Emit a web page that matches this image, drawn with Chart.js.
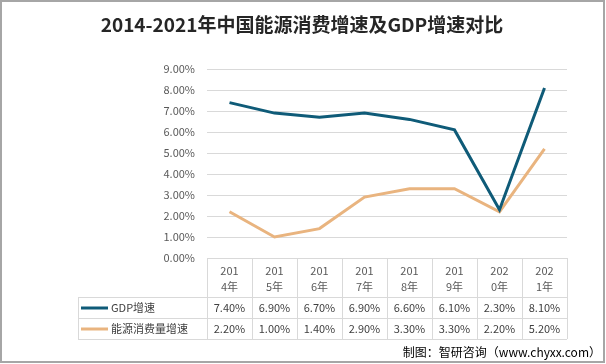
<!DOCTYPE html>
<html>
<head>
<meta charset="utf-8">
<script src="https://cdn.jsdelivr.net/npm/chart.js@4"></script>
<style>
  html, body { margin: 0; padding: 0; background: #fff; }
  #wrap { width: 606px; height: 364px; position: relative; }
</style>
</head>
<body>
<div id="wrap"><canvas id="chartSpeed" width="606" height="364"></canvas></div>
<script>
const years = [['201', '4年'], ['201', '5年'], ['201', '6年'], ['201', '7年'], ['201', '8年'], ['201', '9年'], ['202', '0年'], ['202', '1年']];
const gdpGrowth = [7.4, 6.9, 6.7, 6.9, 6.6, 6.1, 2.3, 8.1];
const energyGrowth = [2.2, 1.0, 1.4, 2.9, 3.3, 3.3, 2.2, 5.2];
const seriesNames = ['GDP增速', '能源消费量增速'];
const titleText = '2014-2021年中国能源消费增速及GDP增速对比';
const sourceText = '制图：智研咨询（www.chyxx.com）';

const gdpColor = '#0f5b78';
const energyColor = '#e9b47f';
const gridColor = '#d9d9d9';
const textFont = '"Noto Sans CJK SC", "Noto Sans", sans-serif';

const fmt = v => v.toFixed(2) + '%';

// title, data table under the axis, source line and frame
const tablePlugin = {
  id: 'dataTable',
  afterDraw(chart) {
    const { ctx, scales: { x } } = chart;
    const left = 78;
    const right = x.right;
    const rowTop = x.bottom;
    const rowH = 21;
    const rows = [
      { name: seriesNames[0], color: gdpColor, values: gdpGrowth },
      { name: seriesNames[1], color: energyColor, values: energyGrowth }
    ];
    const half = (x.getPixelForValue(1) - x.getPixelForValue(0)) / 2;

    ctx.save();
    ctx.strokeStyle = gridColor;
    ctx.lineWidth = 1;
    ctx.beginPath();
    for (let r = 0; r <= rows.length; r++) {
      const y = Math.round(rowTop + r * rowH) + 0.5;
      ctx.moveTo(left, y);
      ctx.lineTo(right, y);
    }
    ctx.moveTo(left + 0.5, rowTop);
    ctx.lineTo(left + 0.5, rowTop + rows.length * rowH);
    for (let i = 0; i <= years.length; i++) {
      const xx = Math.round(x.getPixelForValue(i) - half) + 0.5;
      ctx.moveTo(xx, rowTop);
      ctx.lineTo(xx, rowTop + rows.length * rowH);
    }
    ctx.stroke();

    ctx.textBaseline = 'middle';
    rows.forEach((row, r) => {
      const cy = rowTop + r * rowH + rowH / 2 + 0.5;
      ctx.strokeStyle = row.color;
      ctx.lineWidth = 3;
      ctx.beginPath();
      ctx.moveTo(81, cy);
      ctx.lineTo(108, cy);
      ctx.stroke();
      ctx.fillStyle = '#404040';
      ctx.font = '11px ' + textFont;
      ctx.textAlign = 'left';
      ctx.fillText(row.name, 111, cy);
      ctx.textAlign = 'center';
      row.values.forEach((v, i) => {
        ctx.fillText(fmt(v), x.getPixelForValue(i), cy);
      });
    });

    ctx.fillStyle = '#262626';
    ctx.font = 'bold 19px ' + textFont;
    ctx.textAlign = 'center';
    ctx.fillText(titleText, 302, 25);

    ctx.fillStyle = '#000';
    ctx.font = '12px ' + textFont;
    ctx.textAlign = 'right';
    ctx.fillText(sourceText, 601, 352);

    ctx.strokeStyle = '#a6a6a6';
    ctx.lineWidth = 2;
    ctx.strokeRect(1, 1, 603, 361);
    ctx.restore();
  }
};

const drawSpeedChart = () => {
  const context = document.getElementById('chartSpeed').getContext('2d');
  new Chart(context, {
    type: 'line',
    data: {
      labels: years,
      datasets: [{
        label: seriesNames[0],
        data: gdpGrowth,
        borderColor: gdpColor,
        backgroundColor: gdpColor,
        borderWidth: 3,
        pointRadius: 0,
        tension: 0
      }, {
        label: seriesNames[1],
        data: energyGrowth,
        borderColor: energyColor,
        backgroundColor: energyColor,
        borderWidth: 3,
        pointRadius: 0,
        tension: 0
      }]
    },
    options: {
      responsive: false,
      animation: false,
      layout: { padding: { left: 150, right: 39, top: 69, bottom: 67 } },
      plugins: {
        legend: { display: false },
        title: { display: false },
        tooltip: { enabled: false }
      },
      scales: {
        x: {
          offset: true,
          grid: {
            offset: true,
            drawOnChartArea: false,
            drawTicks: true,
            tickLength: 39,
            color: gridColor
          },
          border: { color: gridColor },
          ticks: {
            color: '#595959',
            font: { size: 11, family: textFont, lineHeight: 1.45 },
            padding: -34,
            maxRotation: 0,
            autoSkip: false
          },
          afterFit(scale) { scale.height = 39; }
        },
        y: {
          min: 0,
          max: 9,
          ticks: {
            stepSize: 1,
            color: '#595959',
            font: { size: 11, family: textFont },
            padding: 12,
            callback: v => fmt(v)
          },
          grid: { color: gridColor, drawTicks: false },
          border: { display: false },
          afterFit(scale) { scale.width = 57; }
        }
      }
    },
    plugins: [tablePlugin]
  });
};

drawSpeedChart();
</script>
</body>
</html>
